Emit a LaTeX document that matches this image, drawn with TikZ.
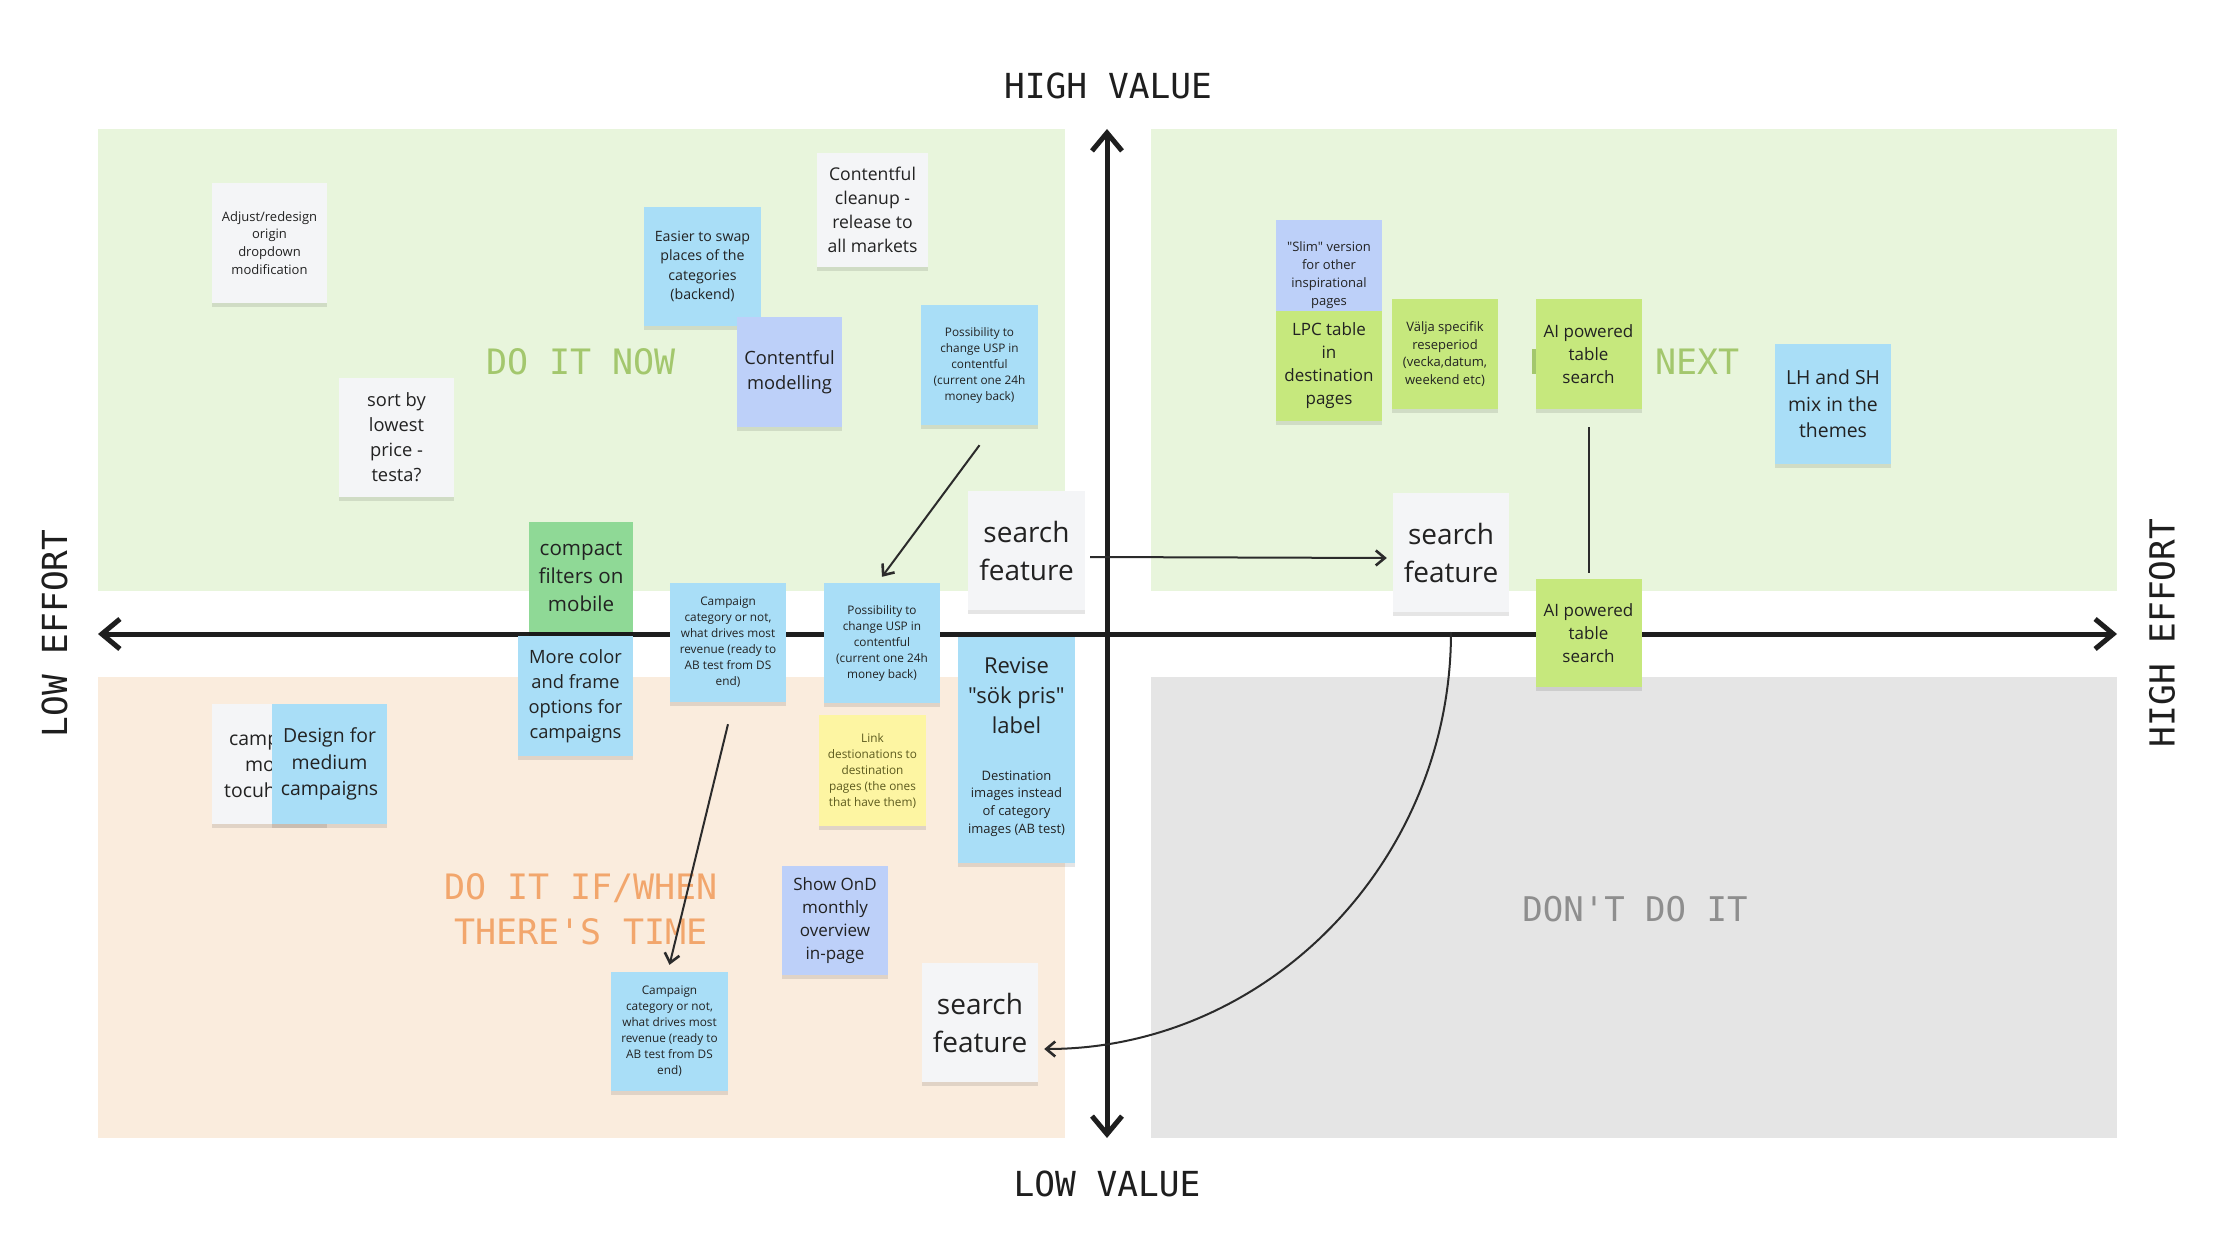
\documentclass[tikz,border=0pt]{standalone}
\usepackage{fontspec}
\setmainfont{Open Sans}[Ligatures=TeXOff]
\newfontfamily\monof{DejaVu Sans Mono}[Ligatures=TeXOff]
\usetikzlibrary{arrows.meta,shadows}
\definecolor{qgreen}{HTML}{E8F5DC}
\definecolor{qpeach}{HTML}{FAECDD}
\definecolor{qgray}{HTML}{E5E5E5}
\definecolor{cwhite}{HTML}{F4F5F7}
\definecolor{cblue}{HTML}{A9DEF7}
\definecolor{cperi}{HTML}{BDD0F9}
\definecolor{clgreen}{HTML}{C6E87D}
\definecolor{cgreen}{HTML}{8FD996}
\definecolor{cyellow}{HTML}{FDF5A2}
\definecolor{ntext}{HTML}{222222}
\definecolor{linktext}{HTML}{5C5A1E}
\definecolor{lblgreen}{HTML}{A3C76D}
\definecolor{lblorange}{HTML}{F2A66C}
\definecolor{lblgray}{HTML}{8E8E8E}
\definecolor{axiscol}{HTML}{1E1E1E}
\definecolor{conncol}{HTML}{2B2B2B}
\begin{document}
\begin{tikzpicture}[x=1pt,y=-1pt,
  note/.style={inner sep=0pt, align=center, text=ntext,
    drop shadow={shadow xshift=0pt,shadow yshift=-4pt,opacity=0.10,fill=black}},
  nsz/.style 2 args={minimum width=#1pt, minimum height=#2pt},
  fa/.style={font=\fontsize{11.8}{16}\selectfont},
  fb/.style={font=\fontsize{13}{17.8}\selectfont},
  fc/.style={font=\fontsize{14.2}{19.3}\selectfont},
  fd/.style={font=\fontsize{17}{23}\selectfont},
  fe/.style={font=\fontsize{17.6}{23.8}\selectfont},
  ff/.style={font=\fontsize{18.3}{24.9}\selectfont},
  fg/.style={font=\fontsize{19.4}{26.3}\selectfont},
  fh/.style={font=\fontsize{20.6}{28}\selectfont},
  fi/.style={font=\fontsize{22}{30}\selectfont},
  fj/.style={font=\fontsize{28}{38}\selectfont},
  axlabel/.style={inner sep=0pt, text=axiscol, font=\monof\fontsize{34.5}{40}\selectfont},
  qlabel/.style={inner sep=0pt, font=\monof\fontsize{35}{45}\selectfont, align=center},
  axisline/.style={line width=5pt, draw=axiscol,
    {Straight Barb[length=18pt,width=30pt]}-{Straight Barb[length=18pt,width=30pt]}},
  conn/.style={line width=2pt, draw=conncol,
    -{Straight Barb[length=9pt,width=15pt,line width=2.6pt]}},
  plainconn/.style={line width=2pt, draw=conncol}
]
\useasboundingbox (0,0) rectangle (2228,1260);
\fill[white] (0,0) rectangle (2228,1260);

% quadrants
\fill[qgreen] (98,129) rectangle (1065,591);
\fill[qgreen] (1151,129) rectangle (2117,591);
\fill[qpeach] (98,677) rectangle (1065,1138);
\fill[qgray] (1151,677) rectangle (2117,1138);

% axes
\coordinate (axL) at (98,634);
\coordinate (axR) at (2117,634);
\coordinate (axT) at (1107,129);
\coordinate (axB) at (1107,1138);
\draw[axisline] (axL) -- (axR);
\draw[axisline] (axB) -- (axT);

% axis labels
\node[axlabel, anchor=base] (hv) at (1108,99) {HIGH VALUE};
\node[axlabel, anchor=base] (lv) at (1107,1196) {LOW VALUE};
\node[axlabel, rotate=90] (le) at (54.5,633.5) {LOW EFFORT};
\node[axlabel, rotate=90] (he) at (2162,633) {HIGH EFFORT};

% quadrant labels
\node[qlabel, text=lblgreen, anchor=base] (qnow) at (581,374) {DO IT NOW};
\fill[lblgreen] (1532,348.5) rectangle (1536,374);
\node[qlabel, text=lblgreen, anchor=base west] (qnext) at (1655,374) {NEXT};
\node[qlabel, text=lblorange, anchor=north] (qtime) at (581,873.5) {DO IT IF/WHEN\\THERE'S TIME};
\node[qlabel, text=lblgray, anchor=base, font=\monof\fontsize{34}{40}\selectfont] (qdont) at (1635,921) {DON'T DO IT};

% sticky notes - top left
\node[note, fill=cwhite, nsz={115}{120}, fb] (adjust) at (269.5,243) {Adjust/redesign\\origin\\dropdown\\modification};
\node[note, fill=cblue, nsz={117}{119}, fc] (easier) at (702.5,266.5) {Easier to swap\\places of the\\categories\\(backend)};
\node[note, fill=cwhite, nsz={111}{114}, fe] (cleanup) at (872.5,210) {Contentful\\cleanup -\\release to\\all markets};
\node[note, fill=cperi, nsz={105}{110}, ff] (modelling) at (789.5,372) {Contentful\\modelling};
\node[note, fill=cblue, nsz={117}{120}, fa] (possA) at (979.5,365) {Possibility to\\change USP in\\contentful\\(current one 24h\\money back)};
\node[note, fill=cwhite, nsz={115}{119}, ff] (sortby) at (396.5,437.5) {sort by\\lowest\\price -\\testa?};
\node[note, fill=cgreen, nsz={104}{110}, fh] (compact) at (581,577) {compact\\filters on\\mobile};
\node[note, fill=cwhite, nsz={117}{119}, fj] (sfL) at (1026.5,550.5) {search\\feature};

% top right
\node[note, fill=cperi, nsz={106}{110}, fb] (slim) at (1329,275) {"Slim" version\\for other\\inspirational\\pages};
\node[note, fill=clgreen, nsz={106}{110}, fd] (lpc) at (1329,366) {LPC table\\in\\destination\\pages};
\node[note, fill=clgreen, nsz={106}{110}, fb] (valja) at (1445,354) {Välja specifik\\reseperiod\\(vecka,datum,\\weekend etc)};
\node[note, fill=clgreen, nsz={106}{110}, fd] (aiA) at (1588.5,354) {AI powered\\table\\search};
\node[note, fill=cblue, nsz={116}{120}, fg] (lhsh) at (1833,404) {LH and SH\\mix in the\\themes};
\node[note, fill=cwhite, nsz={116}{119}, fj] (sfR) at (1451,552.5) {search\\feature};
\node[note, fill=clgreen, nsz={106}{108}, fd] (aiB) at (1588.5,633) {AI powered\\table\\search};

% bottom left
\node[note, fill=cblue, nsz={116}{119}, fa] (campA) at (728,642.5) {Campaign\\category or not,\\what drives most\\revenue (ready to\\AB test from DS\\end)};
\node[note, fill=cblue, nsz={116}{120}, fa] (possB) at (882,643) {Possibility to\\change USP in\\contentful\\(current one 24h\\money back)};
\node[note, fill=cblue, nsz={115}{120}, ff] (morecolor) at (575.5,696) {More color\\and frame\\options for\\campaigns};
\node[note, fill=cwhite, nsz={115}{120}] (campw) at (269.5,764) {};
\node[inner sep=0pt, anchor=base west, text=ntext, fg] (cw1) at (229,745) {camp};
\node[inner sep=0pt, anchor=base west, text=ntext, fg] (cw2) at (245,771) {mo};
\node[inner sep=0pt, anchor=base west, text=ntext, fg] (cw3) at (224,797) {tocuh};
\node[note, fill=cblue, nsz={115}{120}, fg] (design) at (329.5,764) {Design for\\medium\\campaigns};
\node[note, fill=cblue, nsz={117}{118}, fi] (revise) at (1016.5,696) {Revise\\"sök pris"\\label};
\node[note, fill=cblue, nsz={117}{119}, fb] (destimg) at (1016.5,803.5) {Destination\\images instead\\of category\\images (AB test)};
\node[note, fill=cyellow, nsz={107}{111}, fa, text=linktext] (link) at (872.5,770.5) {Link\\destionations to\\destination\\pages (the ones\\that have them)};
\node[note, fill=cperi, nsz={106}{109}, fd] (showond) at (835,920.5) {Show OnD\\monthly\\overview\\in-page};
\node[note, fill=cblue, nsz={117}{119}, fa] (campB) at (669.5,1031.5) {Campaign\\category or not,\\what drives most\\revenue (ready to\\AB test from DS\\end)};
\node[note, fill=cwhite, nsz={116}{119}, fj] (sfB) at (980,1022.5) {search\\feature};

% connectors
\draw[conn] ([yshift=-20pt]possA.south) -- ([yshift=6pt]possB.north);
\draw[conn] ([xshift=5pt,yshift=-6.5pt]sfL.east) -- ([xshift=-6pt,yshift=-5.5pt]sfR.west);
\draw[plainconn] ([yshift=-18pt]aiA.south) -- ([yshift=6pt]aiB.north);
\coordinate (dstart) at (1451,632);
\draw[conn] (dstart) .. controls (1451,861) and (1268,1049) .. ([xshift=6pt,yshift=-26.5pt]sfB.east);
\draw[conn] ([yshift=-22pt]campA.south) -- ([yshift=7pt]campB.north);
\end{tikzpicture}
\end{document}
